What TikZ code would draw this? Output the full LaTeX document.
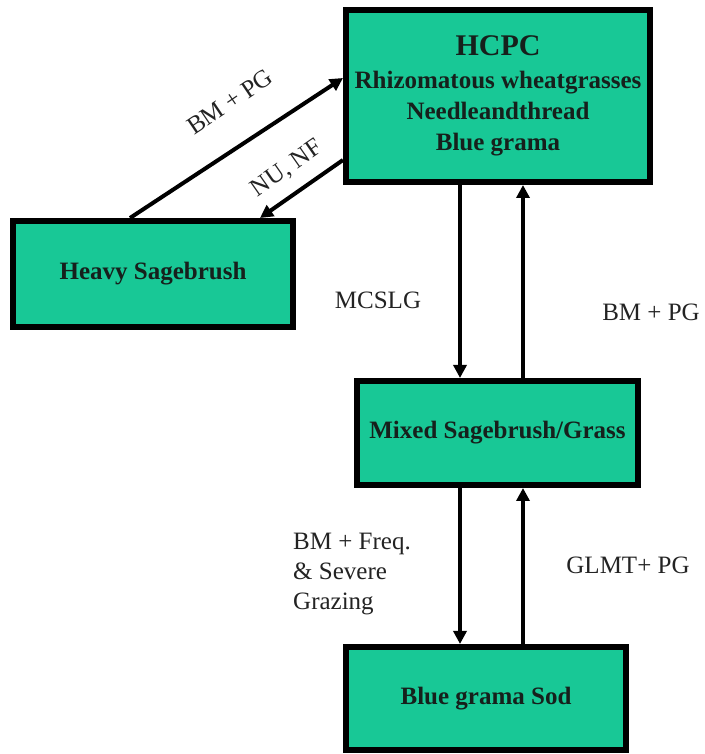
\documentclass[tikz,border=0pt]{standalone}
\usepackage{fontspec}
\setmainfont{LiberationSerif}[Extension=.ttf, UprightFont=*-Regular, BoldFont=*-Bold, ItalicFont=*-Italic, BoldItalicFont=*-BoldItalic]
\usetikzlibrary{arrows.meta}
\definecolor{tealbox}{RGB}{24,200,150}
\definecolor{boxtext}{RGB}{22,32,28}
\definecolor{lbltext}{RGB}{35,35,35}
\begin{document}
\begin{tikzpicture}[x=1pt,y=1pt,
  box/.style={draw=black, line width=6pt, fill=tealbox, inner sep=0pt, outer sep=3pt,
    align=center, font=\fontsize{25}{31}\selectfont\bfseries, text=boxtext},
  arr/.style={line width=4pt, -{Triangle[width=13pt,length=13pt]}},
  lbl/.style={font=\fontsize{25}{30}\selectfont, text=lbltext, inner sep=0pt}]
\useasboundingbox (0,0) rectangle (704,754);
\node[box, minimum width=304pt, minimum height=172pt] (hcpc) at (498,658)
  {{\fontsize{30}{35}\selectfont HCPC}\\[2pt]Rhizomatous wheatgrasses\\Needleandthread\\Blue grama};
\node[box, minimum width=280pt, minimum height=106pt] (heavy) at (153,480) {Heavy Sagebrush};
\node[box, minimum width=281pt, minimum height=104pt] (mixed) at (497.5,321) {Mixed Sagebrush/Grass};
\node[box, minimum width=280pt, minimum height=103pt] (blue) at (486,55.5) {Blue grama Sod};
\coordinate (xa) at (460,0);
\coordinate (xb) at (523,0);
\coordinate (d1) at (130,0);
\coordinate (d2) at (0,676);
\coordinate (d3) at (0,594);
\coordinate (d4) at (260,0);
\draw[arr] (hcpc.south -| xa) -- (mixed.north -| xa);
\draw[arr] (mixed.north -| xb) -- (hcpc.south -| xb);
\draw[arr] (mixed.south -| xa) -- (blue.north -| xa);
\draw[arr] (blue.north -| xb) -- (mixed.south -| xb);
\draw[arr] (heavy.north -| d1) -- (hcpc.west |- d2);
\draw[arr] (hcpc.west |- d3) -- (heavy.north -| d4);
\node[lbl, rotate=34] (l1) at (230,652) {BM + PG};
\node[lbl, rotate=35] (l2) at (287,585) {NU, NF};
\node[lbl] (l3) at (378,454) {MCSLG};
\node[lbl] (l4) at (651,442) {BM + PG};
\node[lbl, align=left, anchor=north west] (l5) at (293,221) {BM + Freq.\\\& Severe\\Grazing};
\node[lbl] (l6) at (628,188.5) {GLMT+ PG};
\end{tikzpicture}
\end{document}
